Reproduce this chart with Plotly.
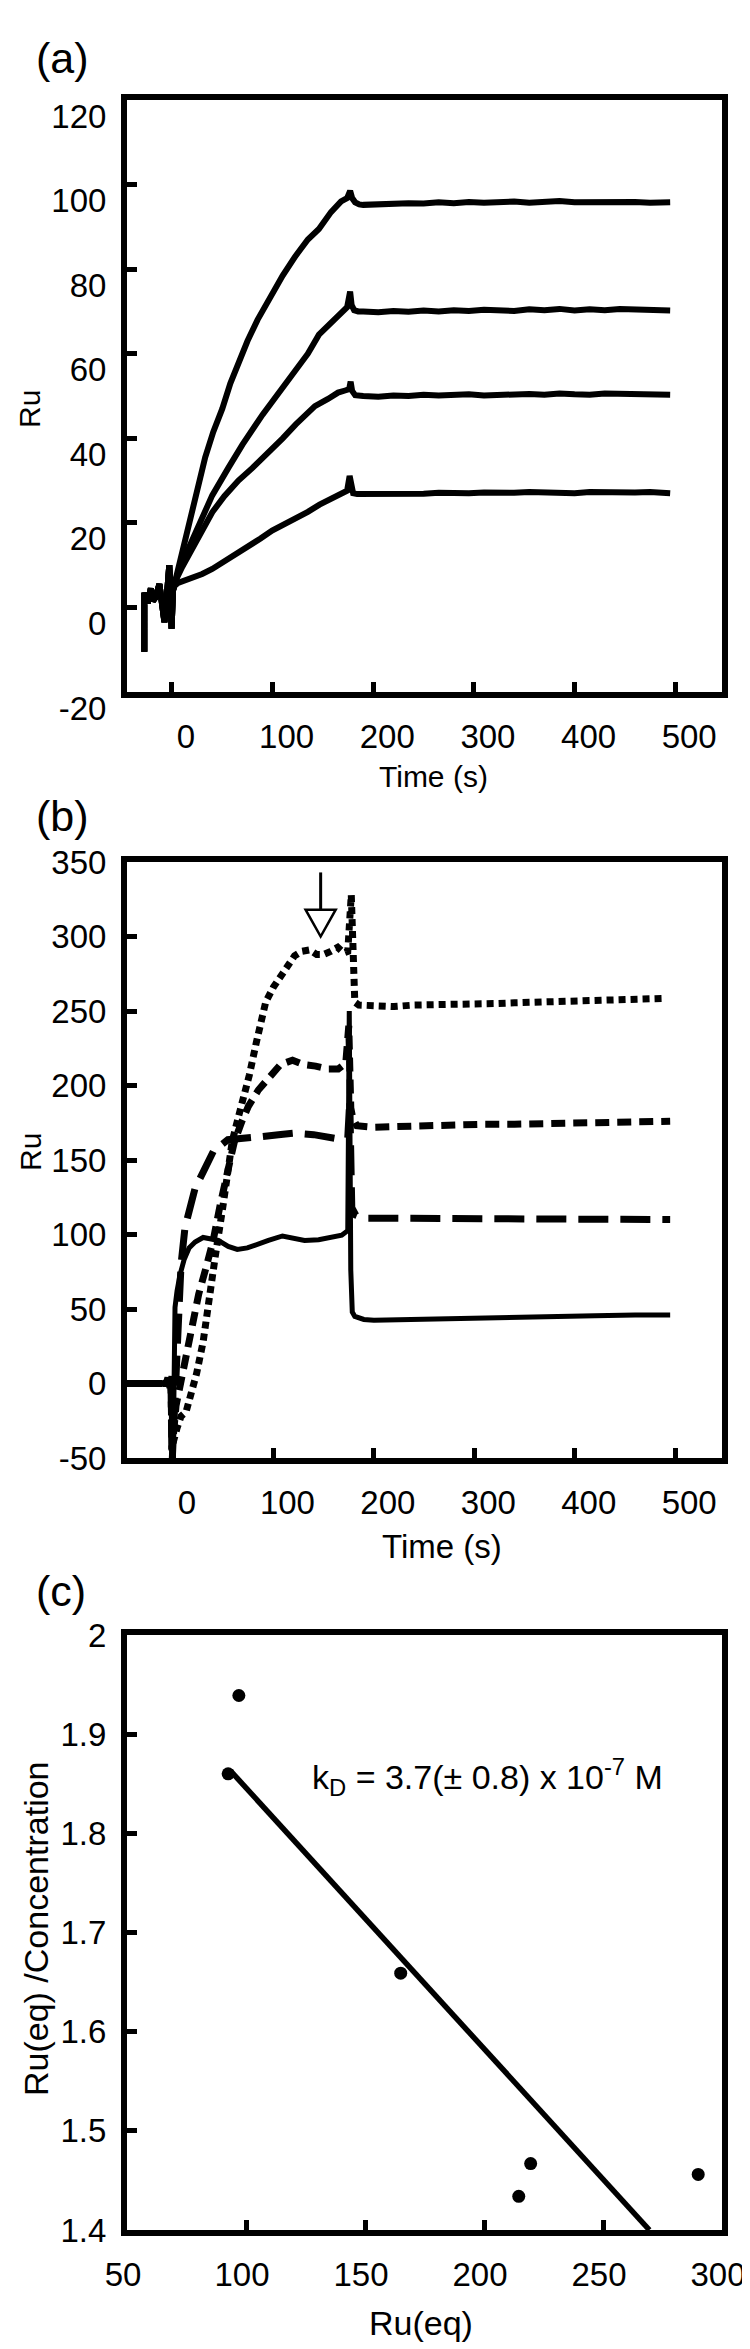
import plotly.graph_objects as go

FONT = "Liberation Sans, Arial, Helvetica, sans-serif"
W, H = 750, 2349

# ---------------- Panel (a) data ----------------
a_pre_t = [-27.5, -27.5, -24, -21, -19, -16, -12.5, -10.5, -9, -7.5, -5, -2.7, -1.5, -0.4, 1]
a_pre_ru = [-10.5, 3.5, 1, 4.5, 1.5, 2.5, 5.5, 1, -1, -3.5, 3, 10, 4, -5, 4]

a1_rise_t = [2, 4, 9, 14, 19, 25, 33, 41, 50, 58, 66, 75, 85, 97, 110, 123, 135, 146, 158, 168, 174, 177, 179, 182, 186]
a1_rise_ru = [5, 7, 12, 17, 21.5, 27, 35.5, 41.5, 47, 53, 58, 63, 68, 73, 78.5, 83.2, 87, 89.5, 93.5, 96, 96.8, 98.5, 96.8, 95.8, 95.3]
a2_rise_t = [2, 5, 10, 20, 28, 40, 56, 70, 90, 105, 123, 135, 146, 158, 168, 174, 177, 178.5, 181, 185]
a2_rise_ru = [5, 7.5, 10.5, 16, 20.5, 26.5, 33, 38.5, 45.6, 50.5, 56.6, 60, 64.5, 67.5, 70, 71, 74.7, 71.5, 70.3, 70]
a3_rise_t = [2, 5, 10, 20, 30, 40, 52, 66, 80, 94.5, 110, 123, 132, 142, 155, 165, 172, 176, 177.5, 179, 182, 186]
a3_rise_ru = [5, 7, 9.5, 14, 18.5, 22.5, 26.3, 30, 33, 36.2, 40, 43.3, 45.5, 47.6, 49.3, 50.8, 51.3, 51.6, 53.4, 51.2, 50.2, 50]
a4_rise_t = [2, 6, 12, 20, 30, 40, 52, 63, 75.6, 88, 99.5, 111, 123, 135, 146.6, 158, 168, 174, 176.5, 178, 180, 184]
a4_rise_ru = [5, 5.8, 6.3, 7, 7.9, 9.1, 10.8, 12.5, 14.3, 16.3, 18.2, 19.6, 20.9, 22.6, 24.3, 25.8, 27, 27.6, 31.1, 28.2, 27, 26.8]

a_dis_t = [190, 205, 220, 235, 250, 265, 280, 295, 310, 325, 340, 355, 370, 385, 400, 415, 430, 445, 460, 475, 490, 495]
a1_dis_ru = [95.2, 95.4, 95.3, 95.6, 95.5, 95.8, 95.6, 95.9, 95.7, 95.8, 96.0, 95.7, 95.9, 96.1, 95.8, 95.9, 96.0, 95.8, 95.9, 95.7, 95.9, 95.8]
a2_dis_ru = [70.0, 69.8, 70.1, 69.9, 70.2, 70.0, 70.3, 70.1, 70.4, 70.2, 70.1, 70.5, 70.3, 70.6, 70.2, 70.5, 70.3, 70.6, 70.4, 70.5, 70.3, 70.2]
a3_dis_ru = [50.0, 49.8, 50.1, 50.0, 50.3, 50.1, 50.2, 50.4, 50.1, 50.3, 50.2, 50.5, 50.3, 50.6, 50.4, 50.3, 50.6, 50.5, 50.7, 50.5, 50.4, 50.3]
a4_dis_ru = [26.8, 26.9, 26.7, 27.0, 26.9, 27.1, 26.9, 27.0, 27.2, 27.0, 27.1, 27.3, 27.1, 27.2, 27.0, 27.3, 27.2, 27.4, 27.2, 27.3, 27.1, 27.0]

a_xticks = [0, 100, 200, 300, 400, 500]
a_yticks = [-20, 0, 20, 40, 60, 80, 100, 120]
a_yticktext = ["-20", "0", "20", "40", "60", "80", "100", "120"]

# ---------------- Panel (b) data ----------------
b_solid_t = [-46, -8, -6, -4, -2, -1, 0.5, 2, 4, 7, 11, 16, 22, 30, 38, 45, 55, 64, 74, 83, 95, 109, 120, 131,
             145, 159, 168, 174, 175.5, 177, 178.5, 181, 190, 200, 230, 260, 300, 340, 380, 420, 460, 495]
b_solid_ru = [0, 0, 4, -3, 5, -60, -30, 51, 62, 73, 83, 91, 95, 98, 97, 96, 92, 90, 91, 93.5, 96, 99, 97.5, 96,
              96.5, 98, 99.5, 102.6, 250, 76, 48, 45, 43, 42.5, 43, 43.5, 44, 44.5, 45, 45.5, 46, 46]

b_long_t = [-46, -6, -2, -1, 2, 5, 8, 12, 16.4, 22, 30.6, 40.3, 54.6, 70, 88, 105, 121, 140, 155, 169, 174, 176,
            178, 182, 190, 220, 260, 300, 340, 380, 420, 460, 495]
b_long_ru = [0, 0, 2, -55, -10, 40, 80, 105, 118, 131, 142.7, 156, 163.6, 165, 165.7, 167, 168, 167, 165, 163.7,
             165, 190, 118, 113, 111, 111, 111, 110.5, 110.5, 111, 111, 110, 110]

b_short_t = [-46, -6, -2, -1, 3, 8, 15, 20, 25.6, 33, 40, 47, 54.5, 61, 68.6, 75, 85, 95, 107, 119, 130, 142, 155,
             164.5, 172, 175, 177, 179, 183, 200, 220, 250, 280, 310, 340, 370, 400, 430, 460, 495]
b_short_ru = [0, 0, 2, -45, -15, 2, 25, 42, 60, 78, 96, 120, 145, 162, 176, 186, 197, 205, 214, 217, 214, 213, 211,
              211, 215, 240, 185, 178, 173, 172, 172.5, 173, 173, 174, 174, 174.5, 175, 175.5, 175.5, 176]

b_dot_t = [-46, -6, -2, 0, 4, 8, 13, 18, 23.5, 30, 35.5, 42, 49.5, 55, 59, 64, 68.8, 76, 83, 92.3, 100, 107, 116.6,
           121, 128, 136, 143, 150, 157, 164, 170, 174, 177.5, 179, 181, 185, 200, 220, 240, 260, 280, 300, 320,
           340, 360, 380, 400, 420, 440, 460, 480, 491]
b_dot_ru = [0, 0, 2, -40, -30, -22, -19, -8, 6.7, 28, 51, 85, 118, 145, 162.7, 176, 187, 207, 229, 256, 266, 273,
            283, 287, 290, 291, 288, 288, 290, 292.7, 289, 290, 328, 300, 256, 254, 253.5, 253, 254, 254, 254.5,
            255, 255, 255.5, 256, 256, 256.5, 257, 257, 257.5, 258, 258.5]

b_xticks = [0, 100, 200, 300, 400, 500]
b_yticks = [-50, 0, 50, 100, 150, 200, 250, 300, 350]
b_yticktext = ["-50", "0", "50", "100", "150", "200", "250", "300", "350"]

# arrow marking the plateau in (b)
arrow_t = 147
arrow_tip_ru = 300
arrow_base_ru = 318
arrow_top_ru = 343
arrow_half_width_t = 15

# ---------------- Panel (c) data ----------------
c_ru_eq = [92.5, 97, 165, 214.6, 219.6, 290]
c_ratio = [1.86, 1.939, 1.659, 1.434, 1.467, 1.456]
c_fit_x = [93.5, 269.5]
c_fit_y = [1.863, 1.400]
c_xticks = [50, 100, 150, 200, 250, 300]
c_yticks = [1.4, 1.5, 1.6, 1.7, 1.8, 1.9, 2.0]
c_yticktext = ["1.4", "1.5", "1.6", "1.7", "1.8", "1.9", "2"]

# ---------------- Figure ----------------
fig = go.Figure()

def a_curve(rise_t, rise_ru, dis_ru):
    return a_pre_t + rise_t + a_dis_t, a_pre_ru + rise_ru + dis_ru

for rt, rr, dr in [(a1_rise_t, a1_rise_ru, a1_dis_ru), (a2_rise_t, a2_rise_ru, a2_dis_ru),
                   (a3_rise_t, a3_rise_ru, a3_dis_ru), (a4_rise_t, a4_rise_ru, a4_dis_ru)]:
    tx, ry = a_curve(rt, rr, dr)
    fig.add_trace(go.Scatter(x=tx, y=ry, mode="lines", xaxis="x", yaxis="y",
                             line=dict(color="black", width=6), showlegend=False, hoverinfo="skip"))

fig.add_trace(go.Scatter(x=b_solid_t, y=b_solid_ru, mode="lines", xaxis="x2", yaxis="y2",
                         line=dict(color="black", width=5), showlegend=False))
fig.add_trace(go.Scatter(x=b_long_t, y=b_long_ru, mode="lines", xaxis="x2", yaxis="y2",
                         line=dict(color="black", width=7, dash="30px,12px"), showlegend=False))
fig.add_trace(go.Scatter(x=b_short_t, y=b_short_ru, mode="lines", xaxis="x2", yaxis="y2",
                         line=dict(color="black", width=7, dash="14px,8px"), showlegend=False))
fig.add_trace(go.Scatter(x=b_dot_t, y=b_dot_ru, mode="lines", xaxis="x2", yaxis="y2",
                         line=dict(color="black", width=7, dash="7px,5px"), showlegend=False))

fig.add_trace(go.Scatter(x=c_fit_x, y=c_fit_y, mode="lines", xaxis="x3", yaxis="y3",
                         line=dict(color="black", width=5.5), showlegend=False))
fig.add_trace(go.Scatter(x=c_ru_eq, y=c_ratio, mode="markers", xaxis="x3", yaxis="y3",
                         marker=dict(color="black", size=13), showlegend=False))

XDOM = [119 / W, 714 / W]

def ydom(top_px, bot_px):
    return [1 - bot_px / H, 1 - top_px / H]

TICKSIZE = 33
axis_common = dict(showline=True, linewidth=6, linecolor="black", mirror=True, ticks="inside",
                   ticklen=10, tickwidth=5, tickcolor="black", showgrid=False, zeroline=False,
                   automargin=False, tickfont=dict(family=FONT, size=TICKSIZE, color="black"))

layout = dict(
    width=W, height=H, paper_bgcolor="white", plot_bgcolor="white",
    margin=dict(l=0, r=0, t=0, b=0), showlegend=False,
    font=dict(family=FONT, color="black"),
    xaxis=dict(axis_common, domain=XDOM, anchor="y", range=[-44.7, 546.5], tickvals=a_xticks,
               ticklabelshift=14, ticklabelstandoff=10),
    yaxis=dict(axis_common, domain=ydom(92, 684), anchor="x", range=[-20, 120], tickvals=a_yticks,
               ticktext=a_yticktext, ticklabelshift=16, ticklabelstandoff=8),
    xaxis2=dict(axis_common, domain=XDOM, anchor="y2", range=[-45.8, 546.6], tickvals=b_xticks,
                ticklabelshift=14, ticklabelstandoff=10),
    yaxis2=dict(axis_common, domain=ydom(854, 1450), anchor="x2", range=[-50, 350], tickvals=b_yticks,
                ticktext=b_yticktext, ticklabelstandoff=8),
    xaxis3=dict(axis_common, domain=XDOM, anchor="y3", range=[50, 300], tickvals=c_xticks,
                ticklabelshift=-4, ticklabelstandoff=10),
    yaxis3=dict(axis_common, domain=ydom(1627, 2222), anchor="x3", range=[1.4, 2.0], tickvals=c_yticks,
                ticktext=c_yticktext, ticklabelstandoff=8),
)
fig.update_layout(**layout)

# axis titles, placed as in the reference (x_px, y_px, angle, size)
axis_titles = [
    ("Time (s)", 426, 768, 0, 30),
    ("Ru", 22, 401, -90, 30),
    ("Time (s)", 434, 1538, 0, 33),
    ("Ru", 22, 1144, -90, 30),
    ("Ru(eq)", 413, 2315, 0, 34),
    ("Ru(eq) /Concentration", 28, 1921, -90, 34),
]
for txt, xpx, ypx, ang, size in axis_titles:
    fig.add_annotation(text=txt, xref="paper", yref="paper", x=xpx / W, y=1 - ypx / H,
                       xanchor="center", yanchor="middle", textangle=ang, showarrow=False,
                       font=dict(family=FONT, size=size, color="black"))

# panel labels
for lbl, ypx in [("(a)", 50), ("(b)", 808), ("(c)", 1583)]:
    fig.add_annotation(text=lbl, xref="paper", yref="paper", x=26 / W, y=1 - ypx / H,
                       xanchor="left", yanchor="middle", showarrow=False,
                       font=dict(family=FONT, size=43, color="black"))

fig.add_annotation(text="k<sub>D</sub> = 3.7(\u00b1 0.8) x 10<sup>-7</sup> M", xref="x3", yref="y3",
                   x=127, y=1.857, xanchor="left", yanchor="middle", showarrow=False,
                   font=dict(family=FONT, size=34, color="black"))

# open arrow in (b)
fig.add_shape(type="line", xref="x2", yref="y2", x0=arrow_t, x1=arrow_t, y0=arrow_base_ru, y1=arrow_top_ru,
              line=dict(color="black", width=3))
fig.add_shape(type="path", xref="x2", yref="y2",
              path=f"M {arrow_t - arrow_half_width_t},{arrow_base_ru} L {arrow_t + arrow_half_width_t},{arrow_base_ru} "
                   f"L {arrow_t},{arrow_tip_ru} Z",
              fillcolor="white", line=dict(color="black", width=2.5))

fig.write_html("out.html")
